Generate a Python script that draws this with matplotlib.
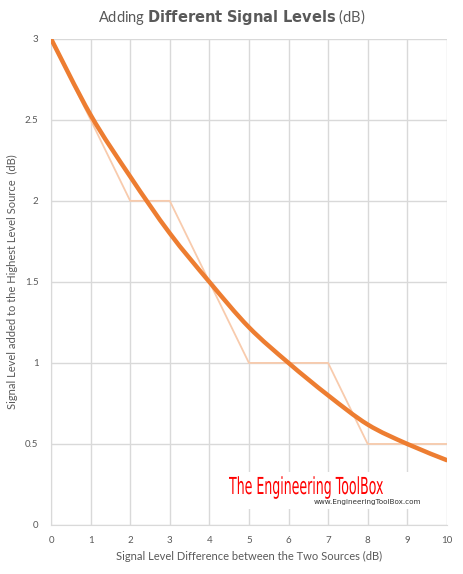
import matplotlib
matplotlib.use('Agg')
import matplotlib.pyplot as plt
from matplotlib.path import Path
from matplotlib.patches import PathPatch, Rectangle
from matplotlib.textpath import TextPath
from matplotlib.font_manager import FontProperties
from matplotlib.transforms import Affine2D, IdentityTransform

plt.rcParams['font.family'] = ['Lato', 'DejaVu Sans']

# data
diff_db = [0, 1, 2, 3, 4, 5, 6, 7, 8, 9, 10]
added_exact = [3.0, 2.53, 2.15, 1.80, 1.50, 1.22, 1.0, 0.80, 0.62, 0.50, 0.40]
added_rounded = [3.0, 2.5, 2.0, 2.0, 1.5, 1.0, 1.0, 1.0, 0.5, 0.5, 0.5]

x_ticks = list(range(0, 11))
y_ticks = [0, 0.5, 1, 1.5, 2, 2.5, 3]
y_labels = ['0', '0.5', '1', '1.5', '2', '2.5', '3']

orange = '#ED7D31'
light = '#F8CBAD'
grey = '#595959'


def smooth_path(xs, ys):
    # Excel-style smoothed line: Catmull-Rom segments turned into cubic beziers
    pts = list(zip(xs, ys))
    verts = [pts[0]]
    codes = [Path.MOVETO]
    for i in range(len(pts) - 1):
        p0 = pts[i - 1] if i > 0 else pts[i]
        p1 = pts[i]
        p2 = pts[i + 1]
        p3 = pts[i + 2] if i + 2 < len(pts) else pts[i + 1]
        c1 = (p1[0] + (p2[0] - p0[0]) / 6, p1[1] + (p2[1] - p0[1]) / 6)
        c2 = (p2[0] - (p3[0] - p1[0]) / 6, p2[1] - (p3[1] - p1[1]) / 6)
        verts += [c1, c2, p2]
        codes += [Path.CURVE4] * 3
    return Path(verts, codes)


fig = plt.figure(figsize=(4.64, 5.74), dpi=100)
ax = fig.add_axes([0.110, 0.0854, 0.853, 0.847])

ax.plot(diff_db, added_rounded, color=light, lw=1.3, zorder=3)
ax.add_patch(PathPatch(smooth_path(diff_db, added_exact), fill=False,
                       edgecolor=orange, lw=3.2, capstyle='round', zorder=4))

ax.set_xlim(0, 10)
ax.set_ylim(0, 3)
ax.set_xticks(x_ticks)
ax.set_yticks(y_ticks)
ax.set_yticklabels(y_labels)
ax.grid(True, color='#D9D9D9', lw=1.0)
ax.set_axisbelow(True)
for s in ['top', 'right']:
    ax.spines[s].set_visible(False)
for s in ['left', 'bottom']:
    ax.spines[s].set_color('#D9D9D9')
ax.tick_params(length=0, labelsize=7, colors=grey)
ax.tick_params(axis='x', pad=8)
ax.tick_params(axis='y', pad=9)

ax.set_xlabel('Signal Level Difference between the Two Sources (dB)',
              fontsize=8, color=grey, labelpad=4)
ax.set_ylabel('Signal Level added to the Highest Level Source  (dB)',
              fontsize=8, color=grey, labelpad=5)

fig.text(0.5, 0.970, r'Adding $\bf{Different\ Signal\ Levels}$ (dB)',
         ha='center', va='center', fontsize=10.5, color=grey)

# watermark: white patch, condensed red logo text, url
fig.patches.append(Rectangle((224, 574 - 509), 222, 37, transform=IdentityTransform(),
                             facecolor='white', edgecolor='none', zorder=5))
tp = TextPath((0, 0), 'The Engineering ToolBox', size=23,
              prop=FontProperties(family='DejaVu Sans'))
bb = tp.get_extents()
sx = 154 / bb.width
sy = 17 / 16.7
fig.patches.append(PathPatch(tp, transform=Affine2D().translate(-bb.x0, 0).scale(sx, sy)
                             .translate(229, 574 - 494) + IdentityTransform(),
                             facecolor='#FF0000', edgecolor='none', zorder=6))
fig.text(314 / 464, 1 - 502 / 574, 'www.EngineeringToolBox.com',
         fontsize=5.2, color='#333333', va='center', ha='left', zorder=6,
         family=['DejaVu Sans'])

fig.savefig('out.png', dpi=100)
